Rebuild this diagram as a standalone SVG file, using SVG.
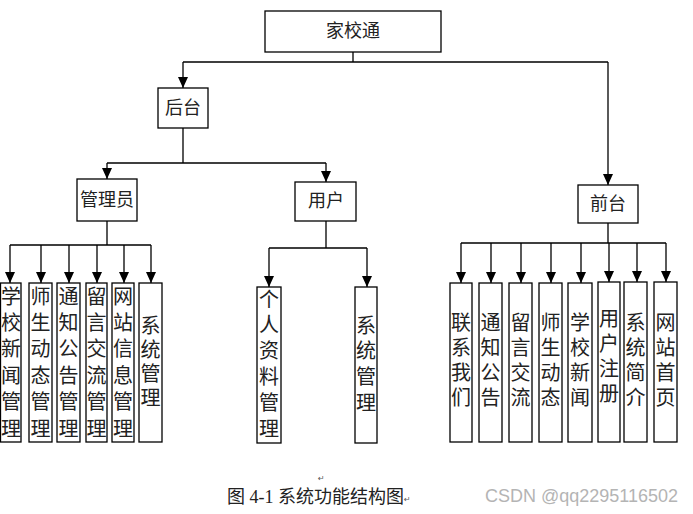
<svg xmlns="http://www.w3.org/2000/svg" width="693" height="514" viewBox="0 0 693 514">
<style>
.box{fill:#fff;stroke:#000;stroke-width:1.3}
.t{font-family:"Noto Sans CJK SC","Noto Sans CJK JP",sans-serif;font-size:18px;fill:#222;text-anchor:middle}
.v{font-family:"Noto Sans CJK SC","Noto Sans CJK JP",sans-serif;font-size:20px;fill:#222;writing-mode:vertical-rl;text-anchor:start}
.ln{fill:none;stroke:#000;stroke-width:1.3}
</style>
<defs>
<marker id="ahd" markerUnits="userSpaceOnUse" markerWidth="10" markerHeight="12" refX="5" refY="11" viewBox="0 0 10 12" orient="0">
<path d="M0,0 L10,0 L5,11 Z" fill="#000"/>
</marker>
</defs>
<rect width="693" height="514" fill="#fff"/>
<g id="connectors">
<path class="ln" d="M353,52 V62 M183,62 H608"/>
<path class="ln" d="M183,62 V88" marker-end="url(#ahd)"/>
<path class="ln" d="M608,62 V185" marker-end="url(#ahd)"/>
<path class="ln" d="M183,128 V163 M107,163 H326"/>
<path class="ln" d="M107,163 V179" marker-end="url(#ahd)"/>
<path class="ln" d="M326,163 V182" marker-end="url(#ahd)"/>
<path class="ln" d="M107,221 V245 M10,245 H151"/>
<path class="ln" d="M10,245 V283" marker-end="url(#ahd)"/>
<path class="ln" d="M41,245 V283" marker-end="url(#ahd)"/>
<path class="ln" d="M69,245 V283" marker-end="url(#ahd)"/>
<path class="ln" d="M97,245 V283" marker-end="url(#ahd)"/>
<path class="ln" d="M124,245 V283" marker-end="url(#ahd)"/>
<path class="ln" d="M151,245 V283" marker-end="url(#ahd)"/>
<path class="ln" d="M326,221 V248 M269,248 H367"/>
<path class="ln" d="M269,248 V287" marker-end="url(#ahd)"/>
<path class="ln" d="M367,248 V287" marker-end="url(#ahd)"/>
<path class="ln" d="M608,223 V243 M461,243 H666"/>
<path class="ln" d="M461,243 V283" marker-end="url(#ahd)"/>
<path class="ln" d="M491,243 V283" marker-end="url(#ahd)"/>
<path class="ln" d="M521,243 V283" marker-end="url(#ahd)"/>
<path class="ln" d="M551,243 V283" marker-end="url(#ahd)"/>
<path class="ln" d="M581,243 V283" marker-end="url(#ahd)"/>
<path class="ln" d="M609,243 V282" marker-end="url(#ahd)"/>
<path class="ln" d="M637,243 V282" marker-end="url(#ahd)"/>
<path class="ln" d="M666,243 V282" marker-end="url(#ahd)"/>
</g>
<g id="n-root"><rect class="box" x="265" y="11" width="176" height="41"/><text class="t" x="353" y="37">家校通</text></g>
<g id="n-houtai"><rect class="box" x="158" y="88" width="50" height="40"/><text class="t" x="183" y="114">后台</text></g>
<g id="n-admin"><rect class="box" x="77" y="179" width="60" height="42"/><text class="t" x="107" y="206">管理员</text></g>
<g id="n-user"><rect class="box" x="295" y="182" width="61" height="39"/><text class="t" x="326" y="207">用户</text></g>
<g id="n-qiantai"><rect class="box" x="578" y="185" width="60" height="38"/><text class="t" x="608" y="210">前台</text></g>

<g id="a1"><rect class="box" x="0.5" y="283" width="20.5" height="159"/><text class="v" x="11" y="286" letter-spacing="6.4">学校新闻管理</text></g>
<g id="a2"><rect class="box" x="29" y="283" width="23" height="159"/><text class="v" x="40.5" y="286" letter-spacing="6.4">师生动态管理</text></g>
<g id="a3"><rect class="box" x="57" y="283" width="23" height="159"/><text class="v" x="68.5" y="286" letter-spacing="6.4">通知公告管理</text></g>
<g id="a4"><rect class="box" x="86" y="283" width="21" height="159"/><text class="v" x="96.5" y="286" letter-spacing="6.4">留言交流管理</text></g>
<g id="a5"><rect class="box" x="112" y="283" width="22" height="159"/><text class="v" x="123" y="286" letter-spacing="6.4">网站信息管理</text></g>
<g id="a6"><rect class="box" x="139" y="283" width="23" height="159"/><text class="v" x="150.5" y="315" letter-spacing="4.3">系统管理</text></g>

<g id="u1"><rect class="box" x="257" y="287" width="24" height="156"/><text class="v" x="269" y="289" letter-spacing="5.8">个人资料管理</text></g>
<g id="u2"><rect class="box" x="355" y="287" width="22" height="156"/><text class="v" x="366" y="315" letter-spacing="5.7">系统管理</text></g>

<g id="q1"><rect class="box" x="450" y="283" width="22" height="159"/><text class="v" x="461" y="312" letter-spacing="5.3">联系我们</text></g>
<g id="q2"><rect class="box" x="479" y="283" width="23" height="159"/><text class="v" x="490.5" y="312" letter-spacing="5.3">通知公告</text></g>
<g id="q3"><rect class="box" x="509" y="283" width="23" height="159"/><text class="v" x="520.5" y="312" letter-spacing="5.3">留言交流</text></g>
<g id="q4"><rect class="box" x="539" y="283" width="23" height="159"/><text class="v" x="550.5" y="312" letter-spacing="5.3">师生动态</text></g>
<g id="q5"><rect class="box" x="568" y="283" width="24" height="159"/><text class="v" x="580" y="312" letter-spacing="5.3">学校新闻</text></g>
<g id="q6"><rect class="box" x="598" y="282" width="22" height="160"/><text class="v" x="609" y="308" letter-spacing="5.3">用户注册</text></g>
<g id="q7"><rect class="box" x="624" y="282" width="23" height="160"/><text class="v" x="635.5" y="312" letter-spacing="5.3">系统简介</text></g>
<g id="q8"><rect class="box" x="654" y="282" width="23" height="160"/><text class="v" x="665.5" y="312" letter-spacing="5.3">网站首页</text></g>

<g id="caption">
<text x="318" y="481" font-family="DejaVu Sans,sans-serif" font-size="8" fill="#555">↵</text>
<text x="227" y="503" font-family="'Liberation Serif','Noto Sans CJK SC',serif" font-size="18" fill="#222">图 4-1 系统功能结构图</text>
<text x="404" y="502" font-family="DejaVu Sans,sans-serif" font-size="8" fill="#555">↵</text>
<text x="485" y="502" font-family="'Liberation Sans',Arial,sans-serif" font-size="18" fill="#b4b4b4">CSDN @qq2295116502</text>
</g>
</svg>
